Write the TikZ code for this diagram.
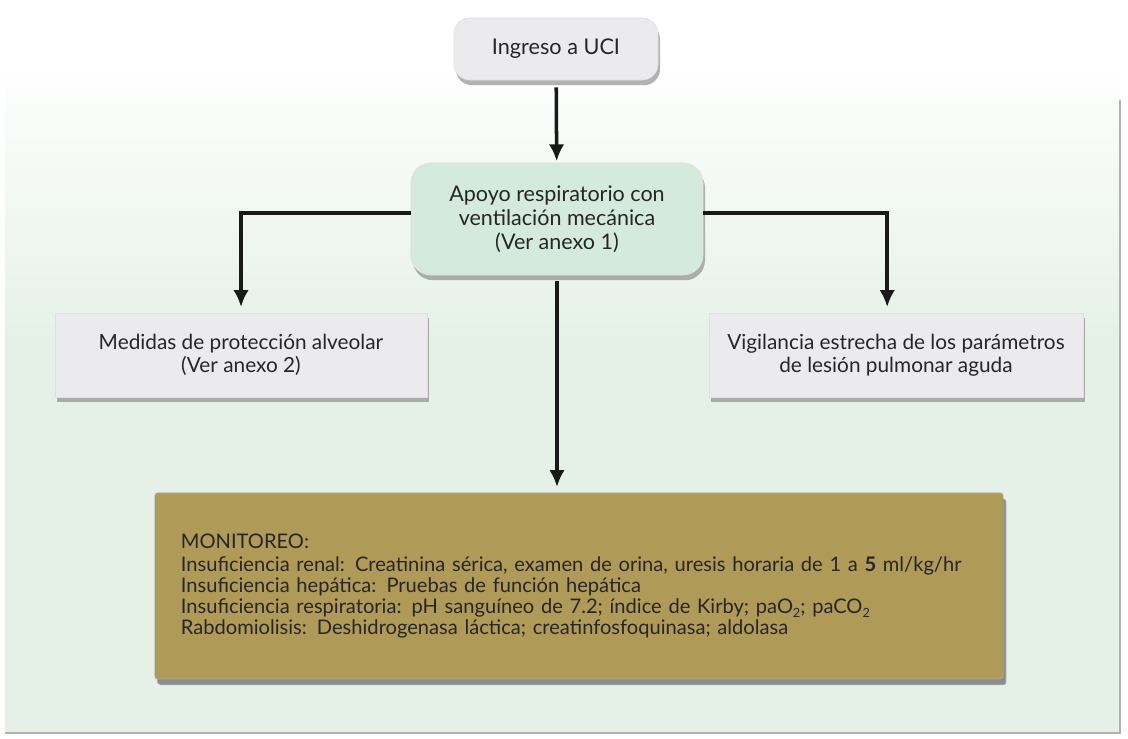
\documentclass[tikz,border=0pt]{standalone}
\usepackage{fontspec}
\setmainfont{Lato}
\usetikzlibrary{shadows,arrows.meta}
\definecolor{panelgreen}{HTML}{E5F1E7}
\definecolor{boxgray}{HTML}{EBEBEE}
\definecolor{mintgreen}{HTML}{D3EADC}
\definecolor{ochre}{HTML}{B09A58}
\definecolor{inkdark}{HTML}{262626}
\newcommand{\sub}[1]{\raisebox{-0.45ex}{\small #1}}

\tikzset{
  flowbox/.style={fill=boxgray, draw=black!12, line width=0.5pt, text=inkdark,
    align=center, font=\fontsize{14.8}{16.5}\selectfont,
    drop shadow={shadow xshift=0.05cm, shadow yshift=-0.13cm, opacity=0.6}},
  flowline/.style={line width=2.5pt, black!90, -{Latex[length=12pt,width=11pt]}}
}

\begin{document}
\begin{tikzpicture}[x=0.025cm,y=-0.025cm]
\useasboundingbox (0,0) rectangle (1128,738);
% background panel
\shade[top color=white, bottom color=panelgreen] (5,60) rectangle (1120,340);
\fill[panelgreen] (5,339) rectangle (1120,733);
\draw[black!30, line width=1.2pt] (5,733) -- (1120,733) -- (1120,100);

% boxes
\node[flowbox, rounded corners=0.4cm, minimum width=5.1cm, minimum height=1.55cm,
  font=\fontsize{15.4}{17}\selectfont]
  (ingreso) at (556,49) {Ingreso a UCI};
\node[flowbox, fill=mintgreen, rounded corners=0.5cm, minimum width=7.3cm, minimum height=2.8cm,
  font=\fontsize{15.3}{17}\selectfont]
  (apoyo) at (557,219) {Apoyo respiratorio con\\ventilación mecánica\\(Ver anexo 1)};
\node[flowbox, minimum width=9.3cm, minimum height=2.1cm]
  (medidas) at (241,355) {Medidas de protección alveolar\\(Ver anexo 2)};
\node[flowbox, minimum width=9.35cm, minimum height=2.1cm]
  (vigilancia) at (896,355) {Vigilancia estrecha de los parámetros\\de lesión pulmonar aguda};
\node[flowbox, fill=ochre, draw=black!35, rounded corners=2pt, align=left,
  minimum width=21.2cm, minimum height=4.65cm, text width=19.9cm, inner xsep=0.65cm,
  font=\fontsize{14.3}{14.8}\selectfont,
  drop shadow={shadow xshift=0.08cm, shadow yshift=-0.15cm, opacity=0.7}]
  (monitoreo) at (579,586) {MONITOREO:\\[1.5pt]
  Insuficiencia renal: Creatinina sérica, examen de orina, uresis horaria de 1 a \textbf{5} ml/kg/hr\\
  Insuficiencia hepática: Pruebas de función hepática\\
  Insuficiencia respiratoria: pH sanguíneo de 7.2; índice de Kirby; paO\sub{2}; paCO\sub{2}\\
  Rabdomiolisis: Deshidrogenasa láctica; creatinfosfoquinasa; aldolasa};

% connectors
\draw[flowline, shorten <=5pt, shorten >=1pt] (ingreso) -- (apoyo);
\draw[flowline, shorten >=4pt] ([yshift=0.15cm]apoyo.west) -| (medidas.north);
\draw[flowline, shorten >=4pt] ([yshift=0.15cm]apoyo.east) -| ([xshift=-0.22cm]vigilancia.north);
\draw[flowline, shorten <=4pt, shorten >=4pt] (apoyo.south) -- (apoyo.south |- monitoreo.north);
\end{tikzpicture}
\end{document}
